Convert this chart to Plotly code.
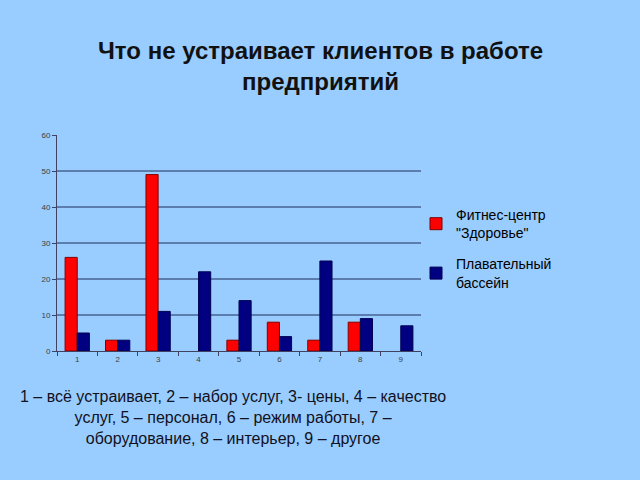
import plotly.graph_objects as go

categories = [1, 2, 3, 4, 5, 6, 7, 8, 9]
fitness = [26, 3, 49, 0, 3, 8, 3, 8, 0]
pool = [5, 3, 11, 22, 14, 4, 25, 9, 7]
series_names = ['Фитнес-центр<br>"Здоровье"', 'Плавательный<br>бассейн']
note_text = ("1 – всё устраивает, 2 – набор услуг, 3- цены, 4 – качество<br>"
             "услуг, 5 – персонал, 6 – режим работы, 7 –<br>"
             "оборудование, 8 – интерьер, 9 – другое")

bg = "#99CCFF"
fig = go.Figure()
fig.add_trace(go.Bar(x=categories, y=fitness, name=series_names[0], legendgroup="a",
                     marker=dict(color="#FF0000",
                                 line=dict(color="#800000", width=[1 if v > 0 else 0 for v in fitness]))))
fig.add_trace(go.Bar(x=categories, y=pool, name=series_names[1], legendgroup="b",
                     marker=dict(color="#000080",
                                 line=dict(color="#000050", width=[1 if v > 0 else 0 for v in pool]))))

pw = 640 - 57 - 219
ph = 480 - 135 - 129

fig.update_layout(
    width=640, height=480,
    paper_bgcolor=bg, plot_bgcolor=bg,
    barmode="group", bargap=0.4, bargroupgap=0,
    margin=dict(l=57, r=219, t=135, b=129),
    font=dict(family="Liberation Sans, Arial, sans-serif"),
    showlegend=True,
    legend=dict(x=(416 - 57) / pw, y=(351 - 199) / ph, xanchor="left", yanchor="top",
                bgcolor="rgba(0,0,0,0)", font=dict(size=14, color="#000000"),
                tracegroupgap=10, itemwidth=30),
    xaxis=dict(range=[0.5, 9.5], tickmode="linear", tick0=1, dtick=1,
               ticks="", showgrid=False, zeroline=False,
               showline=True, linecolor="#404060", linewidth=1,
               tickfont=dict(size=8, color="#404040"),
               minor=dict(tickmode="linear", tick0=0.5, dtick=1, ticks="outside",
                          ticklen=4, tickcolor="#404060", showgrid=False)),
    yaxis=dict(range=[0, 60], tickvals=[0, 10, 20, 30, 40, 50, 60],
               showgrid=False, zeroline=False, showline=True,
               linecolor="#404060", linewidth=1,
               ticks="outside", ticklen=4, tickcolor="#404060",
               tickfont=dict(size=8, color="#404040")),
    annotations=[
        dict(text="<b>Что не устраивает клиентов в работе</b><br><b>предприятий</b>",
             x=(320 - 57) / pw, y=(351 - 66) / ph, xref="paper", yref="paper",
             xanchor="center", yanchor="middle", showarrow=False,
             font=dict(size=24, color="#111111")),
        dict(text=note_text, x=(233 - 57) / pw, y=(351 - 417) / ph,
             xref="paper", yref="paper", xanchor="center", yanchor="middle",
             showarrow=False, font=dict(size=16, color="#111122")),
    ],
)

for v in [10, 20, 30, 40, 50]:
    fig.add_shape(type="line", xref="paper", x0=0, x1=1, yref="y", y0=v, y1=v,
                  line=dict(color="#1F2F5F", width=1), layer="below")

fig.write_html("out.html")
